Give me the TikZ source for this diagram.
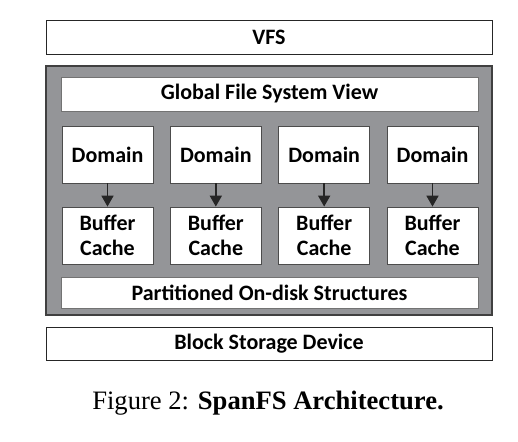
\documentclass[tikz,border=0pt]{standalone}
\usepackage{fontspec}
\setmainfont{Liberation Serif}
\newfontfamily\calfont{Carlito}
\usetikzlibrary{arrows.meta}
\definecolor{spangray}{RGB}{148,149,152}
\tikzset{
  layer/.style={draw=black!85, line width=0.8pt, fill=white, inner sep=0pt,
    font=\calfont\bfseries\fontsize{22}{25}\selectfont},
  part/.style={layer, draw=black!70, align=center,
    minimum width=91pt, minimum height=57pt},
}
\begin{document}
\begin{tikzpicture}[x=1pt,y=-1pt]
\useasboundingbox (0,0) rectangle (518,441);
% VFS on top
\node[layer, minimum width=446pt, minimum height=34pt] (vfs) at (269,37) {VFS};

% SpanFS itself
\node[draw=black!75, line width=1.2pt, fill=spangray, inner sep=0pt,
  minimum width=446pt, minimum height=249pt] (spanfs) at (269,190.5) {};
\node[layer, draw=black!55, minimum width=417pt, minimum height=34pt] (gfsv) at (269.5,94) {Global File System View};
\foreach \i in {1,...,4} {
  \node[part] (dom\i) at ({107.5+108.33*(\i-1)},154.5) {Domain};
  \node[part] (buf\i) at ({107.5+108.33*(\i-1)},235.5) {Buffer\\Cache};
  \draw[line width=1.8pt, black!85, -{Triangle[length=11pt,width=12pt]}] (dom\i) -- (buf\i);
}
\node[layer, draw=black!55, minimum width=417pt, minimum height=31pt] (ondisk) at (269.5,292.5) {Partitioned On-disk Structures};

% device below
\node[layer, minimum width=446pt, minimum height=33pt] (bsd) at (269,343.5) {Block Storage Device};

\node[font=\fontsize{26.6}{30}\selectfont] (caption) at (268,403) {Figure 2: \textbf{SpanFS Architecture.}};
\end{tikzpicture}
\end{document}
